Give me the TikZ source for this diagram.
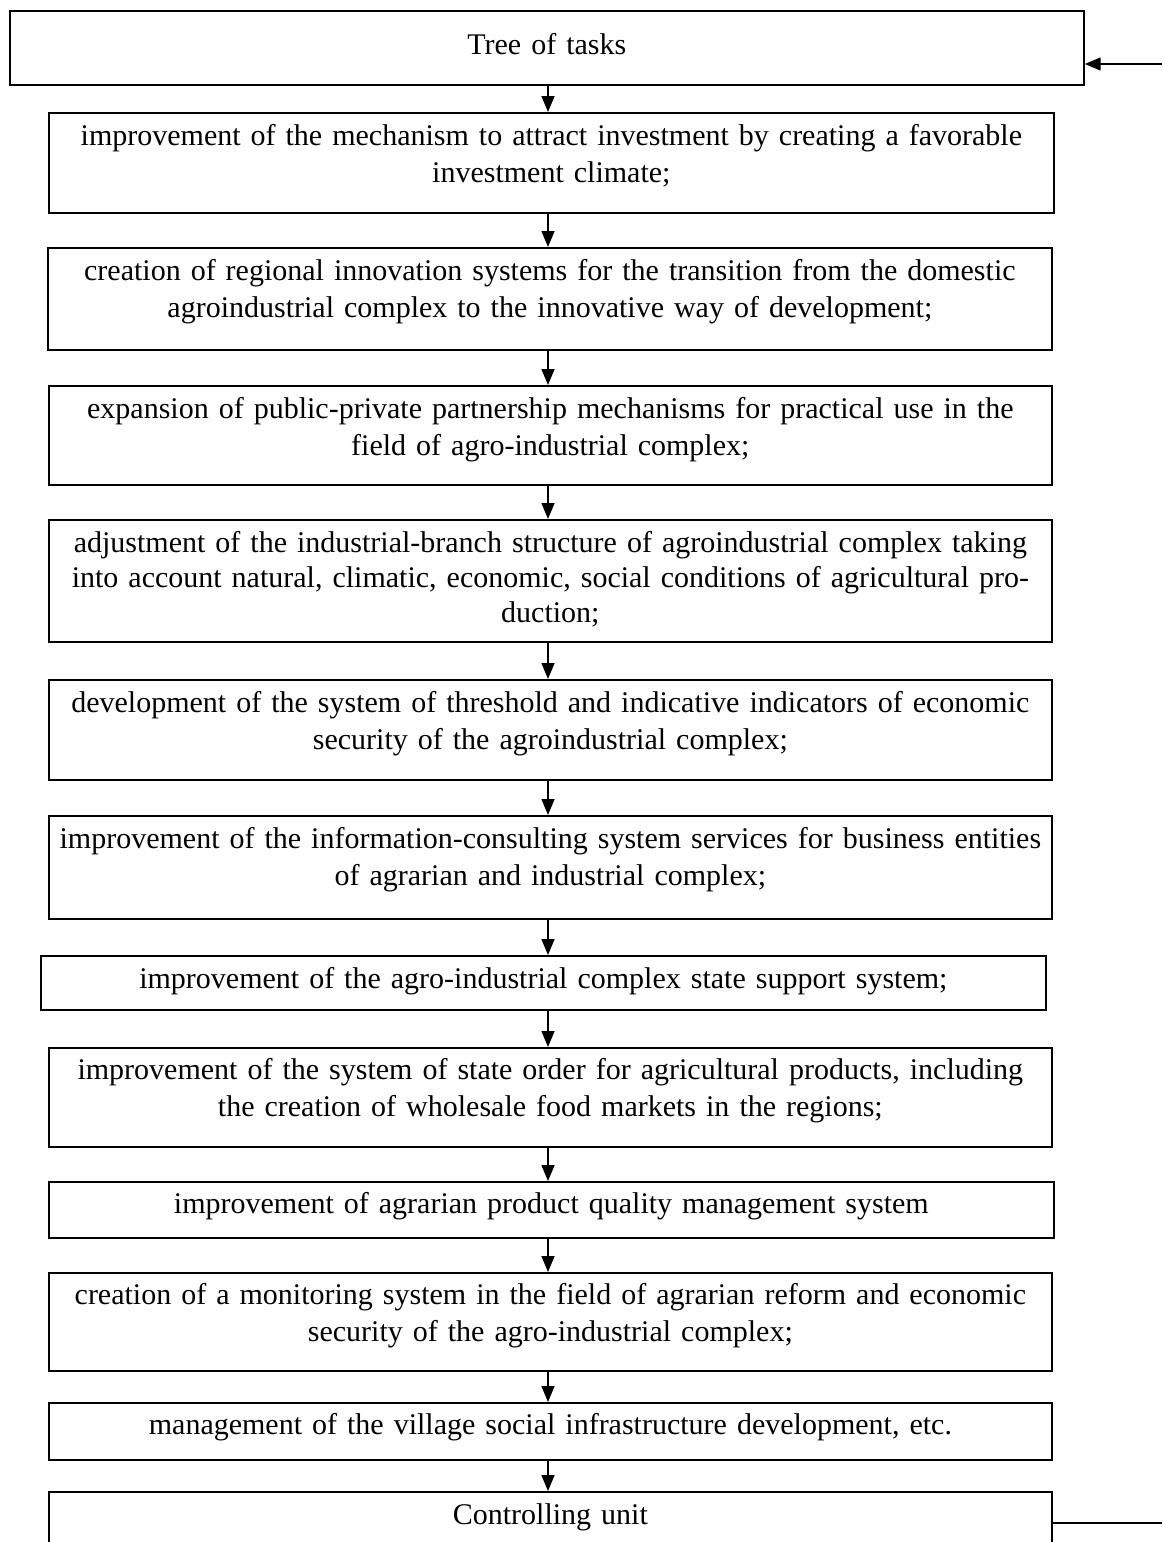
\documentclass[tikz,border=0pt]{standalone}
\usepackage{fontspec}
\setmainfont{Liberation Serif}
\usetikzlibrary{positioning,arrows.meta}

\begin{document}
\begin{tikzpicture}
[x=1pt, y=-1pt,
>={Triangle[length=16pt,width=13pt]},
% The task style is used to draw the frame of each task
task/.style={rectangle, draw, line width=1.7pt, inner sep=0pt, anchor=north west},
% The tasktext style is used to write the text of a task
tasktext/.style={inner sep=0pt, anchor=base, text width=1100pt, align=center, font=\fontsize{30}{37}\selectfont},
link/.style={line width=1.5pt}
]
\fill[white] (0,0) rectangle (1162,1542);
\useasboundingbox (0,0) rectangle (1162,1542);
\clip (0,0) rectangle (1162,1542);

% Draw tasks
\node [task, minimum width=1074pt, minimum height=74pt] (tree) at (9,10) {};
\node [tasktext] (treetxt) at ([yshift=-44pt]tree.north) {Tree of tasks};

\node [task, minimum width=1005pt, minimum height=100pt] (invest) at (48,112) {};
\node [tasktext] (investtxt) at ([yshift=-33pt]invest.north) {improvement of the mechanism to attract investment by creating a favorable\\investment climate;};

\node [task, minimum width=1004pt, minimum height=102pt] (innov) at (47,247) {};
\node [tasktext] (innovtxt) at ([yshift=-33pt]innov.north) {creation of regional innovation systems for the transition from the domestic\\agroindustrial complex to the innovative way of development;};

\node [task, minimum width=1003pt, minimum height=99pt] (ppp) at (48,385) {};
\node [tasktext] (ppptxt) at ([yshift=-33pt]ppp.north) {expansion of public-private partnership mechanisms for practical use in the\\field of agro-industrial complex;};

\node [task, minimum width=1003pt, minimum height=122pt] (branch) at (48,519) {};
\node [tasktext, font=\fontsize{30}{35}\selectfont] (branchtxt) at ([yshift=-33pt]branch.north) {adjustment of the industrial-branch structure of agroindustrial complex taking\\into account natural, climatic, economic, social conditions of agricultural pro-\\duction;};

\node [task, minimum width=1003pt, minimum height=100pt] (threshold) at (48,679) {};
\node [tasktext] (thresholdtxt) at ([yshift=-33pt]threshold.north) {development of the system of threshold and indicative indicators of economic\\security of the agroindustrial complex;};

\node [task, minimum width=1003pt, minimum height=103pt] (consult) at (48,815) {};
\node [tasktext] (consulttxt) at ([yshift=-33pt]consult.north) {improvement of the information-consulting system services for business entities\\of agrarian and industrial complex;};

\node [task, minimum width=1005pt, minimum height=54pt] (support) at (40,955) {};
\node [tasktext] (supporttxt) at ([yshift=-33pt]support.north) {improvement of the agro-industrial complex state support system;};

\node [task, minimum width=1003pt, minimum height=99pt] (order) at (48,1047) {};
\node [tasktext] (ordertxt) at ([yshift=-32pt]order.north) {improvement of the system of state order for agricultural products, including\\the creation of wholesale food markets in the regions;};

\node [task, minimum width=1005pt, minimum height=56pt] (quality) at (48,1181) {};
\node [tasktext] (qualitytxt) at ([yshift=-32pt]quality.north) {improvement of agrarian product quality management system};

\node [task, minimum width=1003pt, minimum height=98pt] (monitor) at (48,1272) {};
\node [tasktext] (monitortxt) at ([yshift=-32pt]monitor.north) {creation of a monitoring system in the field of agrarian reform and economic\\security of the agro-industrial complex;};

\node [task, minimum width=1003pt, minimum height=57pt] (village) at (48,1402) {};
\node [tasktext] (villagetxt) at ([yshift=-32pt]village.north) {management of the village social infrastructure development, etc.};

\node [task, minimum width=1003pt, minimum height=80pt] (control) at (48,1491) {};
\node [tasktext] (controltxt) at ([yshift=-33pt]control.north) {Controlling unit};

% Draw links
\coordinate (axis) at (548,0);
\coordinate (fbin) at (1162,64);
\coordinate (fbout) at (1162,1523);
\draw[link,->] (tree.south -| axis) -- (invest.north -| axis);
\draw[link,->] (invest.south -| axis) -- (innov.north -| axis);
\draw[link,->] (innov.south -| axis) -- (ppp.north -| axis);
\draw[link,->] (ppp.south -| axis) -- (branch.north -| axis);
\draw[link,->] (branch.south -| axis) -- (threshold.north -| axis);
\draw[link,->] (threshold.south -| axis) -- (consult.north -| axis);
\draw[link,->] (consult.south -| axis) -- (support.north -| axis);
\draw[link,->] (support.south -| axis) -- (order.north -| axis);
\draw[link,->] (order.south -| axis) -- (quality.north -| axis);
\draw[link,->] (quality.south -| axis) -- (monitor.north -| axis);
\draw[link,->] (monitor.south -| axis) -- (village.north -| axis);
\draw[link,->] (village.south -| axis) -- (control.north -| axis);
\draw[link,->] (fbin) -- (fbin -| tree.east);
\draw[link] (control.east |- fbout) -- (fbout);
\end{tikzpicture}
\end{document}
